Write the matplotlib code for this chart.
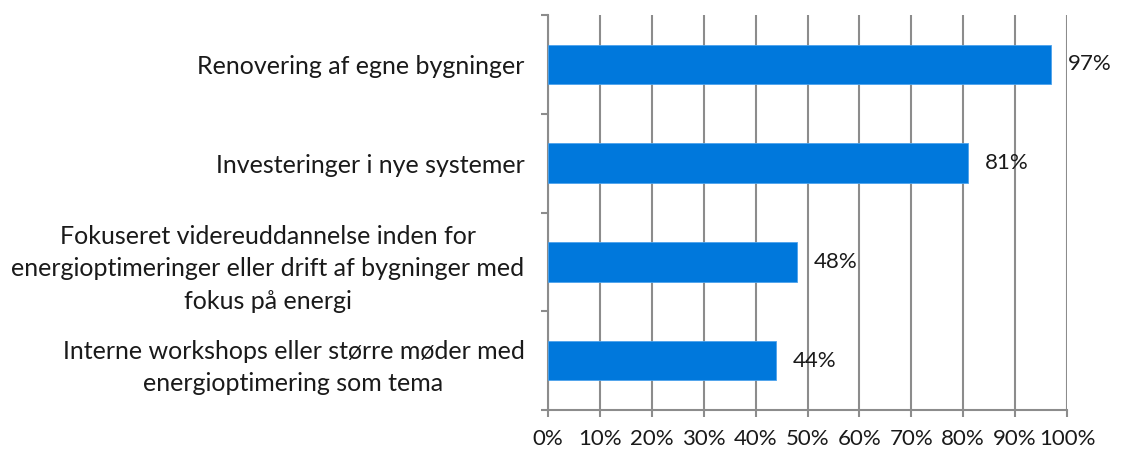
import numpy as np
import matplotlib.pyplot as plt

# Data
categories = [
    "Renovering af egne bygninger",
    "Investeringer i nye systemer",
    "Fokuseret videreuddannelse inden for\nenergioptimeringer eller drift af bygninger med\nfokus på energi",
    "Interne workshops eller større møder med\nenergioptimering som tema",
]
values = [97, 81, 48, 44]
x_ticks = list(range(0, 101, 10))
x_tick_labels = [f"{t}%" for t in x_ticks]

plt.rcParams["font.family"] = ["Lato", "DejaVu Sans"]

bar_color = "#0078DC"
grid_color = "#8C8C8C"
text_color = "#1a1a1a"

fig = plt.figure(figsize=(11.26, 4.55), dpi=100)
ax = fig.add_axes([0.4867, 0.0989, 0.9476 - 0.4867, 0.967 - 0.0989])

# Top category first
pos = np.arange(len(categories))[::-1]
ax.barh(pos, values, height=0.4, color=bar_color, edgecolor="#4DA3EC",
        linewidth=0.6, zorder=3)

for p, v in zip(pos, values):
    ax.annotate(f"{v}%", xy=(v, p), xytext=(12, 0), textcoords="offset points",
                ha="left", va="center", fontsize=16, color=text_color, zorder=4)

ax.set_xlim(0, 100)
ax.set_ylim(-0.5, len(categories) - 0.5)

# Vertical gridlines
ax.set_xticks(x_ticks)
ax.set_xticklabels(x_tick_labels, fontsize=16)
ax.xaxis.grid(True, color=grid_color, linewidth=1.5, zorder=0)
ax.tick_params(axis="x", length=5, width=1.5, color=grid_color, pad=9,
               labelcolor=text_color)

# Category boundaries as major ticks, labels on minor ticks at centers
ax.set_yticks(np.arange(-0.5, len(categories), 1.0))
ax.set_yticklabels([])
ax.tick_params(axis="y", which="major", length=5, width=1.5, color=grid_color)
ax.set_yticks(pos, minor=True)
ax.set_yticklabels(categories, minor=True, fontsize=18, color=text_color,
                   multialignment="center", linespacing=1.5)
ax.tick_params(axis="y", which="minor", length=0, pad=17)

for side in ["top", "right"]:
    ax.spines[side].set_visible(False)
for side in ["left", "bottom"]:
    ax.spines[side].set_color(grid_color)
    ax.spines[side].set_linewidth(1.5)

fig.savefig("out.png", dpi=100)
